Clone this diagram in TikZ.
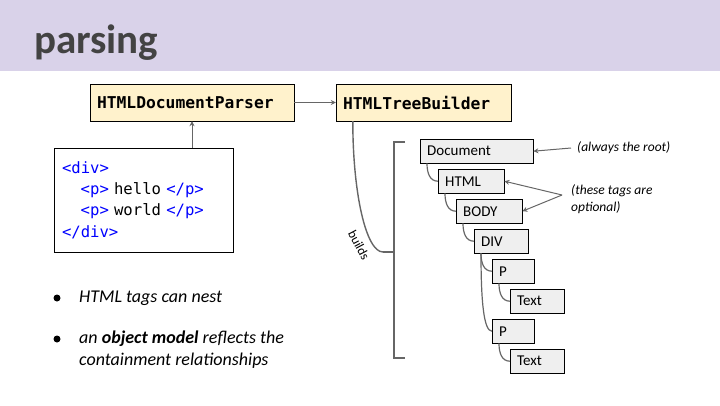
\documentclass[tikz,border=0pt]{standalone}
\usepackage{fontspec}
\setmainfont{Carlito}
\newfontfamily\codefont{DejaVu Sans Mono}
\usetikzlibrary{positioning, calc, arrows.meta}
\definecolor{band}{HTML}{D9D2E9}
\definecolor{titlegray}{HTML}{434343}
\definecolor{classfill}{HTML}{FFF2CC}
\definecolor{treefill}{HTML}{EFEFEF}
\definecolor{linegray}{HTML}{666666}
\definecolor{tagblue}{HTML}{0000FF}
\newcommand{\htmltag}[1]{\textcolor{tagblue}{#1}}
\tikzstyle{Pointer} = [
%thin gray arrow with a small head
line width=1pt, draw=linegray,
-{Stealth[length=5pt, width=5pt]}
]

\begin{document}
\begin{tikzpicture}[x=1pt, y=-1pt,
			classbox/.style = {rectangle, draw, fill=classfill, minimum height=37pt, inner xsep=7pt, align=left, font=\codefont\bfseries\fontsize{16.3}{18}\selectfont},
			codebox/.style = {rectangle, draw, fill=white, minimum width=179pt, minimum height=104pt, text width=163pt, inner xsep=8pt, align=left, font=\codefont\fontsize{15.6}{21.3}\selectfont},
			treenode/.style = {rectangle, draw, fill=treefill, anchor=north west, minimum height=24pt, inner xsep=7pt, inner ysep=0pt, align=left, font=\fontsize{15}{18}\selectfont},
			branch/.style = {draw=linegray, line width=1.2pt},
			bracket/.style = {draw=linegray, line width=2.2pt},
			note/.style = {anchor=west, inner sep=0pt, align=left, font=\itshape\fontsize{13.5}{17.5}\selectfont},
			bullettext/.style = {anchor=base west, inner sep=0pt, align=left, font=\itshape\fontsize{18}{21.5}\selectfont},
			dot/.style = {circle, fill=black, inner sep=0pt, minimum size=7pt},
		]
		\useasboundingbox (0,0) rectangle (720,405);

		% title band
		\fill[band] (0,0) rectangle (720,71);
		\node[anchor=base west, inner sep=0pt, text=titlegray, font=\bfseries\fontsize{41}{48}\selectfont] (title) at (34,53) {parsing};

		% parser and builder
		\node[classbox, minimum width=204pt, text width=190pt] (parser) at (192,102.5) {HTMLDocumentParser};
		\node[classbox, minimum width=175pt, text width=161pt] (builder) at (423.5,102.5) {HTMLTreeBuilder};
		\node[codebox] (code) at (143.5,200) {\htmltag{<div>}\\\hspace*{1.2em}\htmltag{<p>} hello \htmltag{</p>}\\\hspace*{1.2em}\htmltag{<p>} world \htmltag{</p>}\\\htmltag{</div>}};

		\draw[Pointer](parser)--(builder);
		\draw[Pointer](code.north -| parser.south)--(parser.south);

		% tree
		\node[treenode, text width=99pt] (doc) at (420,139) {Document};
		\node[treenode, text width=52pt] (html) at (438,169) {HTML};
		\node[treenode, text width=52pt] (body) at (456,199) {BODY};
		\node[treenode, text width=40pt] (div) at (474,229) {DIV};
		\node[treenode, text width=28pt] (pone) at (492,259) {P};
		\node[treenode, text width=40pt] (textone) at (510,289) {Text};
		\node[treenode, text width=28pt] (ptwo) at (492,319) {P};
		\node[treenode, text width=40pt] (texttwo) at (510,349) {Text};

		\foreach \a/\b/\d in {doc/html/10pt, html/body/10pt, body/div/10pt, div/pone/10pt, div/ptwo/50pt, pone/textone/10pt, ptwo/texttwo/10pt}
			\draw[branch]([xshift=7pt]\a.south west) to[out=-90, in=180, out distance=\d, in distance=8pt] (\b.west);

		% bracket and builds
		\coordinate (brk) at (383,252);
		\draw[bracket] (405,142) -- (394,142) -- (394,358) -- (405,358);
		\draw[bracket] (394,252) -- (brk);
		\draw[branch, line width=1.4pt]([xshift=17pt]builder.south west) .. controls +(0,72) and +(-17,0) .. (brk);
		\node[rotate=-62, inner sep=0pt, font=\fontsize{13}{15}\selectfont] (buildslabel) at (359,245) {builds};

		% notes
		\node[note] (rootnote) at (577,148) {(always the root)};
		\draw[Pointer]([xshift=-6pt]rootnote.west)--(doc.east);
		\node[note] (optnote) at (571,199) {(these tags are\\optional)};
		\coordinate (optfork) at (562,195);
		\draw[Pointer](optfork)--(html.east);
		\draw[Pointer](optfork)--(body.east);

		% bullets
		\node[dot] (dotone) at (57,298) {};
		\node[bullettext] (bulletone) at (79,302) {HTML tags can nest};
		\node[dot] (dottwo) at (57,339) {};
		\node[bullettext] (bullettwo) at (79,365) {an \textbf{object model} reflects the\\containment relationships};
	\end{tikzpicture}
\end{document}
